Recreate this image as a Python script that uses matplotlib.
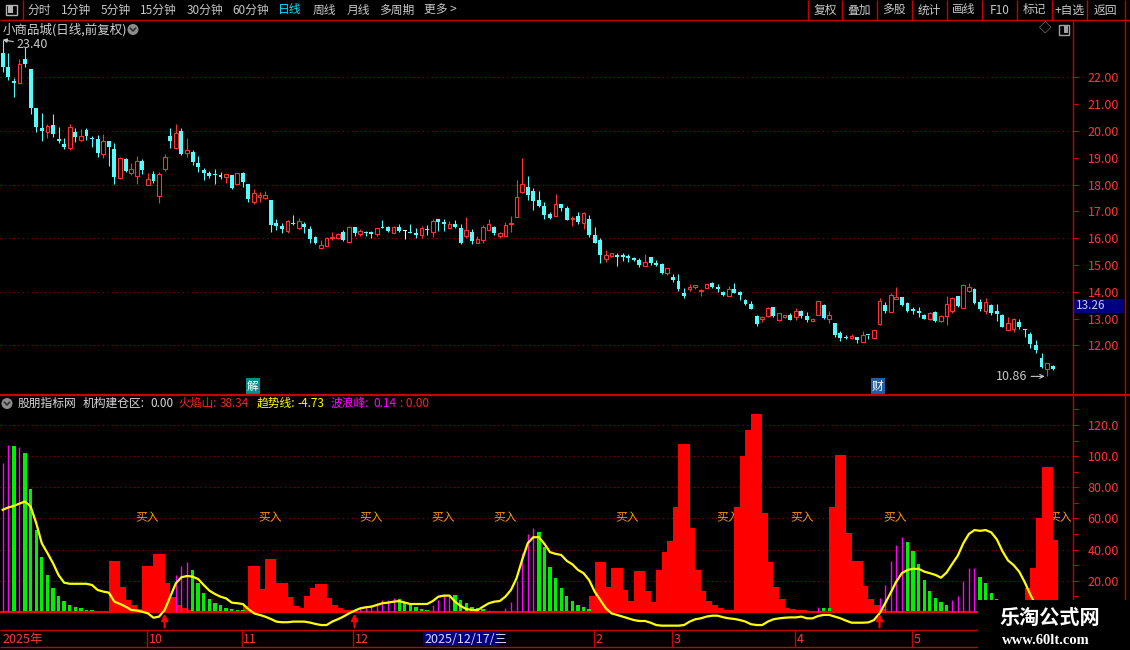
import matplotlib
matplotlib.use('Agg')
import matplotlib.pyplot as plt
from matplotlib.patches import Rectangle, Circle
import numpy as np

plt.rcParams['font.family'] = ['Noto Sans CJK SC', 'DejaVu Sans']

# ---------------- data ----------------
# daily candles of 小商品城 (前复权)
opens = [
    22.91, 22.38, 21.86, 21.79, 22.68, 22.31, 20.85, 20.11, 19.96, 20.22,
    19.70, 19.51, 19.36, 19.96, 19.66, 20.03, 19.72, 19.70, 19.14, 19.62,
    19.33, 18.24, 18.95, 18.43, 18.32, 18.88, 17.98, 18.39, 17.57, 18.58,
    19.81, 19.36, 20.00, 19.18, 19.21, 18.80, 18.54, 18.43, 18.40, 18.35,
    18.28, 18.35, 18.02, 18.43, 18.02, 17.35, 17.53, 17.50, 17.42, 16.56,
    16.45, 16.27, 16.55, 16.38, 16.53, 16.34, 16.04, 15.63, 15.71, 16.01,
    16.01, 16.23, 15.86, 16.42, 16.15, 16.20, 16.23, 16.15, 16.42, 16.42,
    16.19, 16.42, 16.27, 16.22, 16.19, 16.12, 16.31, 16.23, 16.71, 16.60,
    16.38, 16.53, 16.38, 16.08, 16.23, 15.82, 15.93, 16.30, 16.42, 16.08,
    16.08, 16.53, 16.79, 17.72, 17.91, 17.76, 17.42, 17.20, 16.90, 16.82,
    17.27, 17.12, 16.71, 16.82, 16.56, 16.71, 16.12, 15.93, 15.22, 15.33,
    15.37, 15.37, 15.33, 15.26, 15.18, 14.96, 15.29, 15.07, 15.03, 14.70,
    14.55, 14.40, 13.95, 14.10, 14.17, 14.02, 14.13, 14.32, 14.17, 13.98,
    13.83, 14.10, 13.98, 13.68, 13.54, 13.09, 12.98, 13.09, 13.43, 12.94,
    13.06, 13.13, 13.06, 13.28, 13.09, 12.91, 13.13, 13.50, 12.98, 12.83,
    12.47, 12.32, 12.28, 12.32, 12.13, 12.39, 12.28, 12.80, 13.50, 13.24,
    13.72, 13.80, 13.57, 13.35, 13.28, 13.13, 12.98, 13.24, 12.91, 13.09,
    13.28, 13.83, 13.39, 14.02, 14.10, 13.61, 13.28, 13.50, 13.28, 13.13,
    12.58, 12.61, 12.87, 12.59, 12.43, 12.01, 11.53, 11.12, 11.23,
]
highs = [
    23.40, 22.91, 21.97, 22.68, 23.13, 22.31, 20.85, 20.67, 20.26, 20.63,
    20.15, 19.74, 20.26, 20.11, 20.07, 20.11, 19.81, 19.85, 19.88, 19.62,
    19.55, 19.03, 18.99, 18.80, 19.07, 18.95, 18.43, 18.50, 18.47, 19.14,
    20.11, 20.26, 20.11, 19.74, 19.29, 19.07, 18.62, 18.50, 18.58, 18.47,
    18.39, 18.35, 18.43, 18.47, 18.02, 17.83, 17.72, 17.76, 17.42, 16.71,
    16.56, 16.68, 16.86, 16.75, 16.60, 16.45, 16.08, 15.93, 16.04, 16.23,
    16.19, 16.30, 16.45, 16.42, 16.34, 16.27, 16.27, 16.38, 16.68, 16.45,
    16.45, 16.53, 16.30, 16.53, 16.38, 16.45, 16.49, 16.71, 16.71, 16.71,
    16.64, 16.68, 16.53, 16.79, 16.34, 16.08, 16.49, 16.71, 16.45, 16.23,
    16.60, 16.82, 18.17, 18.99, 18.32, 17.87, 17.76, 17.35, 16.97, 17.64,
    17.27, 17.20, 16.82, 16.97, 16.97, 16.86, 16.42, 16.01, 15.56, 15.44,
    15.44, 15.44, 15.41, 15.29, 15.26, 15.41, 15.29, 15.18, 15.07, 14.88,
    14.66, 14.66, 14.13, 14.28, 14.25, 14.10, 14.28, 14.36, 14.28, 14.02,
    14.21, 14.32, 14.02, 13.72, 13.65, 13.13, 13.09, 13.43, 13.43, 13.20,
    13.13, 13.20, 13.39, 13.31, 13.24, 13.02, 13.65, 13.54, 13.28, 12.83,
    12.54, 12.39, 12.43, 12.32, 12.54, 12.39, 12.58, 13.76, 13.61, 13.95,
    14.17, 13.80, 13.61, 13.43, 13.43, 13.17, 13.24, 13.28, 13.13, 13.83,
    13.80, 13.83, 14.28, 14.32, 14.13, 13.72, 13.76, 13.54, 13.54, 13.17,
    13.06, 13.02, 12.98, 12.61, 12.50, 12.20, 11.72, 11.34, 11.27,
]
lows = [
    22.20, 21.90, 21.26, 21.79, 22.38, 20.63, 19.96, 19.62, 19.74, 19.77,
    19.55, 19.33, 19.29, 19.59, 19.62, 19.66, 19.40, 19.03, 18.99, 18.69,
    18.02, 18.21, 18.47, 18.35, 18.02, 18.39, 17.98, 18.05, 17.31, 18.50,
    19.36, 19.33, 19.10, 19.03, 18.73, 18.47, 18.17, 18.24, 18.02, 18.21,
    18.05, 17.83, 17.98, 17.91, 17.35, 17.27, 17.35, 17.46, 16.23, 16.30,
    16.19, 16.19, 16.49, 16.34, 16.19, 15.82, 15.78, 15.59, 15.71, 15.93,
    15.97, 15.89, 15.86, 16.08, 16.08, 16.08, 16.01, 16.08, 16.36, 16.23,
    16.19, 16.23, 15.97, 16.19, 16.01, 16.01, 16.12, 16.04, 16.27, 16.27,
    16.38, 16.38, 15.78, 16.01, 15.78, 15.82, 15.82, 16.30, 16.12, 16.01,
    16.08, 16.23, 16.79, 17.69, 17.42, 17.05, 17.16, 16.71, 16.71, 16.82,
    17.01, 16.68, 16.45, 16.53, 16.34, 16.04, 15.82, 15.07, 15.11, 15.29,
    14.96, 15.15, 15.11, 15.15, 14.92, 14.96, 15.00, 14.96, 14.66, 14.62,
    14.36, 14.02, 13.76, 14.02, 14.10, 13.83, 14.13, 14.13, 13.98, 13.83,
    13.83, 13.95, 13.68, 13.50, 13.35, 12.72, 12.87, 13.06, 13.06, 12.91,
    13.02, 12.94, 12.94, 13.02, 12.87, 12.91, 13.13, 12.98, 12.83, 12.32,
    12.17, 12.24, 12.24, 12.09, 12.13, 12.24, 12.28, 12.76, 13.20, 13.24,
    13.72, 13.46, 13.24, 13.17, 13.06, 12.98, 12.94, 12.87, 12.87, 12.76,
    13.20, 13.43, 13.39, 13.98, 13.54, 13.28, 13.17, 13.13, 12.91, 12.69,
    12.58, 12.50, 12.61, 12.32, 11.90, 11.72, 11.16, 10.86, 11.09,
]
closes = [
    22.38, 22.01, 21.79, 22.50, 22.50, 20.85, 20.15, 20.00, 20.18, 19.88,
    19.62, 19.40, 20.15, 19.77, 19.81, 19.81, 19.68, 19.18, 19.62, 19.40,
    18.28, 18.99, 18.50, 18.58, 18.88, 18.54, 18.21, 18.13, 18.39, 19.03,
    19.62, 19.92, 19.14, 19.29, 18.84, 18.65, 18.43, 18.32, 18.37, 18.28,
    18.39, 17.87, 18.43, 18.09, 17.46, 17.69, 17.61, 17.61, 16.49, 16.45,
    16.34, 16.64, 16.52, 16.64, 16.42, 15.97, 15.82, 15.74, 16.01, 16.04,
    16.15, 15.93, 16.42, 16.19, 16.27, 16.18, 16.15, 16.38, 16.39, 16.27,
    16.42, 16.27, 16.27, 16.20, 16.12, 16.38, 16.29, 16.64, 16.60, 16.53,
    16.53, 16.42, 15.82, 16.30, 15.89, 15.97, 16.42, 16.53, 16.19, 16.19,
    16.49, 16.56, 17.53, 18.02, 17.61, 17.38, 17.20, 16.86, 16.75, 17.27,
    17.12, 16.68, 16.75, 16.60, 16.94, 16.12, 15.82, 15.37, 15.37, 15.44,
    15.29, 15.29, 15.26, 15.18, 15.00, 15.11, 15.07, 15.00, 14.70, 14.88,
    14.44, 14.10, 13.83, 14.17, 14.25, 14.05, 14.28, 14.17, 14.10, 13.87,
    14.10, 13.95, 13.87, 13.54, 13.35, 12.80, 13.06, 13.39, 13.09, 13.20,
    13.13, 12.94, 13.28, 13.09, 12.94, 12.98, 13.65, 13.02, 13.13, 12.39,
    12.28, 12.28, 12.35, 12.20, 12.39, 12.37, 12.58, 13.65, 13.28, 13.87,
    13.80, 13.50, 13.28, 13.28, 13.20, 12.98, 13.20, 12.91, 13.09, 13.54,
    13.76, 13.46, 14.25, 14.17, 13.57, 13.35, 13.61, 13.20, 13.17, 12.69,
    12.83, 12.98, 12.69, 12.57, 12.05, 11.83, 11.19, 11.34, 11.12,
]

# indicator series, runs of values keyed by first bar index
fire_runs = {  # 火焰山 (red blocks)
    19: [32.7, 32.7, 16.2, 7.6, 4.4, 2.0, 29.5, 29.5, 37.2, 37.2, 18.5, 9.7, 4.4, 2.2, 1.0],
    43: [3.5, 29.5, 29.5, 14.7, 34.0, 34.0, 18.5, 18.5, 9.7, 4.0, 2.2, 10.2, 15.5, 17.9,
         17.9, 9.0, 4.4, 2.6, 1.1, 1.1],
    105: [10.4, 31.8, 31.8, 15.7, 28.0, 28.0, 14.0, 6.9, 26.2, 26.2, 13.4, 6.5, 26.9, 38.7,
          45.5, 67.0, 108.0, 108.0, 54.0, 26.9, 13.4, 6.9, 4.4, 2.2, 1.2, 1.2, 67.0, 100.2,
          117.0, 127.2, 127.2, 63.3, 31.8, 16.2, 8.2, 2.2, 1.5, 1.0, 1.0],
    148: [67.6, 100.8, 100.8, 50.5, 32.7, 32.7, 16.6, 8.2, 4.4, 1.5],
    183: [15.1, 28.0, 60.1, 92.7, 92.7, 46.2],
}
green_runs = {  # falling wave bars
    2: [106.6],
    4: [102.0, 79.0, 52.6, 35.4, 23.7, 15.5, 10.4, 6.9, 4.4, 2.9, 2.2, 1.1, 1.1, 0.6, 0.6, 0.6],
    34: [26.9, 18.3, 11.9, 8.2, 5.9, 4.4, 2.6, 1.8, 1.2, 1.0, 0.6, 0.6, 0.6, 0.6],
    71: [8.2, 6.5, 4.4, 3.3, 1.8, 1.2],
    81: [10.8, 7.6, 5.4, 3.3, 2.2, 1.8],
    88: [0.8, 0.8],
    96: [51.5, 41.9, 29.0, 21.9, 15.5, 10.2, 6.9, 4.4, 3.3, 1.6, 0.8, 0.8, 0.8, 0.8, 0.8, 0.8, 0.8],
    147: [2.4, 2.4, 0.8, 0.8, 0.6, 0.6, 0.6, 0.6, 0.6, 0.6],
    162: [45.0, 39.0, 30.7, 20.4, 13.4, 9.0, 6.5, 4.4],
    175: [22.6, 18.3, 11.9, 8.0],
}
wave_runs = {  # 波浪峰 (magenta lines)
    0: [95.7, 107.0],
    3: [106.0],
    31: [23.7, 29.7, 31.8],
    64: [2.4, 3.3, 4.4, 5.9, 7.6, 7.6, 8.7],
    77: [4.4, 7.6, 10.8, 10.8],
    87: [1.2],
    90: [2.2, 6.5, 19.8, 38.0, 50.0, 54.0],
    146: [3.3],
    157: [8.9, 17.2, 32.7, 43.0, 48.3],
    170: [7.6, 10.2, 19.8, 28.4, 28.4],
}
trend = [  # 趋势线 (yellow)
    65.5, 67.0, 68.0, 69.5, 70.8, 67.6, 57.0, 44.0, 37.8, 31.3,
    23.6, 18.7, 18.0, 18.0, 18.0, 18.0, 17.2, 14.0, 13.0, 12.3,
    6.5, 5.0, 3.3, 1.2, 0.8, 0.0, -1.0, -3.8, -3.1, 1.2,
    9.7, 18.3, 22.2, 23.0, 22.6, 21.0, 17.2, 13.6, 11.4, 9.7,
    8.6, 5.9, 5.5, 5.0, 1.6, -1.0, -2.0, -3.1, -4.6, -6.3,
    -6.7, -6.7, -6.3, -6.3, -6.3, -6.9, -7.8, -8.5, -8.5, -6.3,
    -4.8, -3.1, -1.0, 0.7, 2.2, 2.9, 3.3, 4.4, 5.5, 5.9,
    6.5, 6.9, 5.9, 5.0, 5.0, 5.0, 5.0, 6.9, 9.7, 10.4,
    10.4, 6.5, 3.7, 1.8, 1.2, 1.0, 3.3, 5.4, 6.5, 6.9,
    9.7, 14.0, 21.5, 33.3, 44.0, 47.9, 47.9, 43.6, 38.3, 37.2,
    36.5, 32.7, 30.5, 26.9, 24.8, 20.4, 12.9, 7.6, 2.2, -1.0,
    -2.0, -3.1, -4.2, -5.3, -5.9, -5.9, -7.0, -8.5, -8.9, -8.9,
    -8.9, -8.9, -8.5, -6.3, -4.8, -4.2, -3.1, -2.5, -2.5, -3.5,
    -4.2, -4.6, -5.3, -6.3, -8.0, -8.5, -8.5, -6.3, -4.8, -4.2,
    -3.8, -3.6, -3.6, -3.1, -4.2, -4.2, -2.7, -2.0, -2.0, -3.1,
    -4.2, -5.7, -7.0, -7.0, -7.0, -6.8, -5.3, -1.0, 5.4, 12.3,
    19.4, 24.8, 26.9, 27.6, 27.6, 25.8, 24.8, 23.7, 21.9, 25.2,
    30.7, 36.0, 44.0, 50.0, 52.5, 52.0, 52.5, 51.0, 46.5, 39.0,
    33.0, 30.0, 25.8, 19.0, 11.0, 4.0, -3.0, -8.0, -11.0,
]
buy_marks = [25.8, 47.9, 66.0, 78.8, 89.9, 111.8, 129.9, 143.1, 159.8, 189.3]
arrow_bars = [29, 63, 157]
month_starts = [26, 43, 63, 106, 120, 142, 163]
month_labels = ['10', '11', '12', '2', '3', '4', '5']
cursor_bar = 75
cursor_label = '2025/12/17/三'
price_ticks = [12, 13, 14, 15, 16, 17, 18, 19, 20, 21, 22]
ind_ticks = [20, 40, 60, 80, 100, 120]
ind_tick_labels = ['20.00', '40.00', '60.00', '80.00', '100.0', '120.0']

# ---------------- style ----------------
RED = '#ff3232'
CYAN = '#54fcfc'
LINE = '#c80000'
LAB = '#ff3535'
GRID = '#9a0000'
W, H = 1130, 650

n = len(closes)
x = np.arange(n)


def runs_to_array(runs):
    arr = np.zeros(n)
    for start, vals in runs.items():
        arr[start:start + len(vals)] = vals
    return arr


fire = runs_to_array(fire_runs)
green = runs_to_array(green_runs)
wave = runs_to_array(wave_runs)

fig = plt.figure(figsize=(W / 100, H / 100), dpi=100, facecolor='black')


def px_axes(x0, y0, x1, y1, **kw):
    a = fig.add_axes([x0 / W, 1 - y1 / H, (x1 - x0) / W, (y1 - y0) / H], **kw)
    a.set_facecolor('black')
    for s in a.spines.values():
        s.set_visible(False)
    return a


XLIM = (-0.483, 191.64)

# ---------------- price panel ----------------
ax_p = px_axes(0, 20, 1073, 394)
ax_p.set_xlim(*XLIM)
ax_p.set_ylim(10.183, 24.138)
for g in range(12, 23, 2):
    ax_p.axhline(g, color=GRID, lw=0.8, ls=(0, (1, 3)), zorder=1)

o, h, l, c = (np.array(v) for v in (opens, highs, lows, closes))
up = c > o
dn = c < o
cols = np.where(up, RED, np.where(dn, CYAN, '#ffffff'))
ax_p.vlines(x, l, h, colors=cols, lw=0.8, zorder=2)
bottom = np.minimum(o, c)
height = np.maximum(np.abs(c - o), 0.04)
ax_p.bar(x[up], height[up], bottom=bottom[up], width=0.66, facecolor='black',
         edgecolor=RED, lw=0.8, zorder=3)
ax_p.bar(x[~up], height[~up], bottom=bottom[~up], width=0.7, color=cols[~up], lw=0, zorder=3)

ax_p.annotate('23.40', xy=(0, 23.40), xytext=(2.4, 23.21), color='#c8c8c8', fontsize=9,
              ha='left', va='center',
              arrowprops=dict(arrowstyle='-|>', color='#c8c8c8', lw=0.8, mutation_scale=6,
                              shrinkA=0, shrinkB=0))
ax_p.annotate('10.86', xy=(186.6, 10.84), xytext=(183.4, 10.84), color='#c8c8c8', fontsize=9,
              ha='right', va='center',
              arrowprops=dict(arrowstyle='->', color='#c8c8c8', lw=0.8, mutation_scale=7,
                              shrinkA=1, shrinkB=0))
for bx, ch, fc in ((44.8, '解', '#0a8a8a'), (156.7, '财', '#1f5fa8')):
    ax_p.text(bx, 10.47, ch, color='white', fontsize=8.5, ha='center', va='center', zorder=4,
              bbox=dict(boxstyle='square,pad=0.12', fc=fc, ec='none'))

ax_p.yaxis.tick_right()
ax_p.set_yticks(price_ticks)
ax_p.set_yticklabels([f'{t:.2f}' for t in price_ticks])
ax_p.tick_params(axis='y', colors=LINE, labelcolor=LAB, length=3.6, width=0.8, pad=7,
                 labelsize=9, direction='out')
ax_p.set_xticks([])

# ---------------- indicator panel ----------------
ax_i = px_axes(0, 395, 1073, 630)
ax_i.set_xlim(*XLIM)
ax_i.set_ylim(-11.69, 139.24)
for g in ind_ticks:
    ax_i.axhline(g, color=GRID, lw=0.8, ls=(0, (1, 3)), zorder=0.5)
for bx in buy_marks:
    ax_i.text(bx, 60.2, '买入', color='#f39a1e', fontsize=8.5, ha='center', va='center', zorder=1)
mf = fire > 0
ax_i.bar(x[mf], fire[mf], width=1.0, align='edge', color='#ff0000', lw=0, zorder=2)
mg = green > 0
ax_i.bar(x[mg], green[mg], width=0.6, color='#00f000', lw=0, zorder=3)
ax_i.axhline(0, color='#ff0000', lw=1.4, zorder=3.5)
mw = wave > 0
ax_i.vlines(x[mw], 0, wave[mw], colors='#ff00ff', lw=1.0, zorder=4)
ax_i.plot(x, trend, color='#ffff00', lw=1.6, zorder=5)
for b in arrow_bars:
    ax_i.annotate('', xy=(b, -1.2), xytext=(b, -10.0),
                  arrowprops=dict(arrowstyle='-|>', color='#ff0000', lw=1.6, mutation_scale=9,
                                  shrinkA=0, shrinkB=0), zorder=6)
ax_i.yaxis.tick_right()
ax_i.set_yticks(ind_ticks)
ax_i.set_yticklabels(ind_tick_labels)
ax_i.set_yticks([10, 30, 50, 70, 90, 110, 130], minor=True)
ax_i.tick_params(axis='y', which='both', colors=LINE, labelcolor=LAB, length=3.6, width=0.8,
                 pad=7, labelsize=9, direction='out')
ax_i.set_xticks([])

# ---------------- date band ----------------
ax_d = px_axes(0, 630, 1073, 647)
ax_d.set_xlim(*XLIM)
ax_d.set_ylim(0, 1)
ax_d.set_xticks([])
ax_d.set_yticks([])
ax_d.vlines([m - 0.2 for m in month_starts], 0, 1, colors=LINE, lw=1.0)
ax_d.text(-0.1, 0.45, '2025年', color=LAB, fontsize=9, ha='left', va='center')
for m, lab in zip(month_starts, month_labels):
    ax_d.text(m + 0.1, 0.45, lab, color=LAB, fontsize=9, ha='left', va='center')
ax_d.add_patch(Rectangle((cursor_bar + 0.3, 0.04), 13.8, 0.92, fc='#000080', ec='none', zorder=3))
ax_d.text(cursor_bar + 0.5, 0.45, cursor_label, color='#d8d8ff', fontsize=9, ha='left',
          va='center', zorder=4)

# ---------------- overlay: frame, toolbar, titles ----------------
ax_o = fig.add_axes([0, 0, 1, 1], zorder=10)
ax_o.set_xlim(0, W)
ax_o.set_ylim(H, 0)
ax_o.axis('off')
ax_o.patch.set_alpha(0)

ax_o.hlines([19.5], 0, W, colors=LINE, lw=1.0)
ax_o.hlines([394.5], 0, W, colors=LINE, lw=1.6)
ax_o.hlines([630, 646.8], 0, 1124.5, colors=LINE, lw=1.0)
ax_o.vlines([1073], 19.5, H, colors=LINE, lw=1.0)
ax_o.vlines([1124.5], 0, H, colors=LINE, lw=1.0)
ax_o.vlines([23, 807.6, 842, 876.5, 911.6, 946.6, 982, 1017, 1052, 1087], 0, 19.5,
            colors=LINE, lw=1.0)

# toolbar
ax_o.add_patch(Rectangle((6, 4.5), 11, 10, fc='none', ec='#b4b4b4', lw=1.0))
ax_o.add_patch(Rectangle((7.5, 6), 5.5, 7, fc='#b4b4b4', ec='none'))
left_tabs = ['分时', '1分钟', '5分钟', '15分钟', '30分钟', '60分钟', '日线', '周线', '月线', '多周期', '更多 >']
left_pos = [39.5, 76.5, 116, 158.5, 204.5, 250.5, 290, 324, 358.5, 397, 440]
for t, px in zip(left_tabs, left_pos):
    ax_o.text(px, 10, t, color='#00e4ff' if t == '日线' else '#c8c8c8', fontsize=8.5,
              ha='center', va='center')
right_tabs = ['复权', '叠加', '多股', '统计', '画线', 'F10', '标记', '+自选', '返回']
right_pos = [825, 859.6, 894, 929, 964, 1000, 1034, 1070, 1105]
for t, px in zip(right_tabs, right_pos):
    ax_o.text(px, 10, t, color='#c8c8c8', fontsize=8.5, ha='center', va='center')

# price title row
ax_o.text(3, 29.5, '小商品城(日线,前复权)', color='#d0d0d0', fontsize=9, ha='left', va='center')
ax_o.add_patch(Circle((133, 29.5), 5.5, fc='#8c8c8c', ec='none'))
ax_o.plot([130.5, 133, 135.5], [28.3, 31, 28.3], color='#303030', lw=1.2)
ax_o.text(1045, 29.5, '◇', color='#a0a0a0', fontsize=9, ha='center', va='center')
ax_o.add_patch(Rectangle((1059, 24.5), 10, 10, fc='none', ec='#a0a0a0', lw=1.0))
ax_o.add_patch(Rectangle((1064, 26), 3.5, 7, fc='#a0a0a0', ec='none'))

# current price box
ax_o.add_patch(Rectangle((1073, 298.5), 51, 14.5, fc='#000080', ec='none'))
ax_o.text(1076, 305.5, '13.26', color='#c8c8ff', fontsize=8.5, ha='left', va='center')

# indicator title row
ax_o.add_patch(Circle((7, 403.5), 5.5, fc='#8c8c8c', ec='none'))
ax_o.plot([4.5, 7, 9.5], [402.3, 405, 402.3], color='#303030', lw=1.2)
title_parts = [('股朋指标网', 18, '#d8d8d8'), ('机构建仓区:', 83, '#d8d8d8'), ('0.00', 150, '#d8d8d8'),
               ('火焰山:', 178, '#ff2020'), ('38.34', 220, '#ff2020'),
               ('趋势线:', 257, '#ffff00'), ('-4.73', 297, '#ffff00'),
               ('波浪峰:', 331, '#ff00ff'), ('0.14', 373, '#ff00ff'), (': 0.00', 400, '#ff2020')]
for t, px, col in title_parts:
    ax_o.text(px, 403.5, t, color=col, fontsize=8.5, ha='left', va='center')

# watermark
ax_o.add_patch(Rectangle((978, 600), 152, 50, fc='black', ec='none', zorder=20))
ax_o.text(1050, 617, '乐淘公式网', color='white', fontsize=14.5, fontweight='bold',
          ha='center', va='center', zorder=21)
ax_o.text(1046, 640, 'www.60lt.com', color='white', fontsize=10.5, fontweight='bold',
          family=['Liberation Serif', 'DejaVu Serif'], ha='center', va='center', zorder=21)

fig.savefig('out.png', dpi=100, facecolor='black')
